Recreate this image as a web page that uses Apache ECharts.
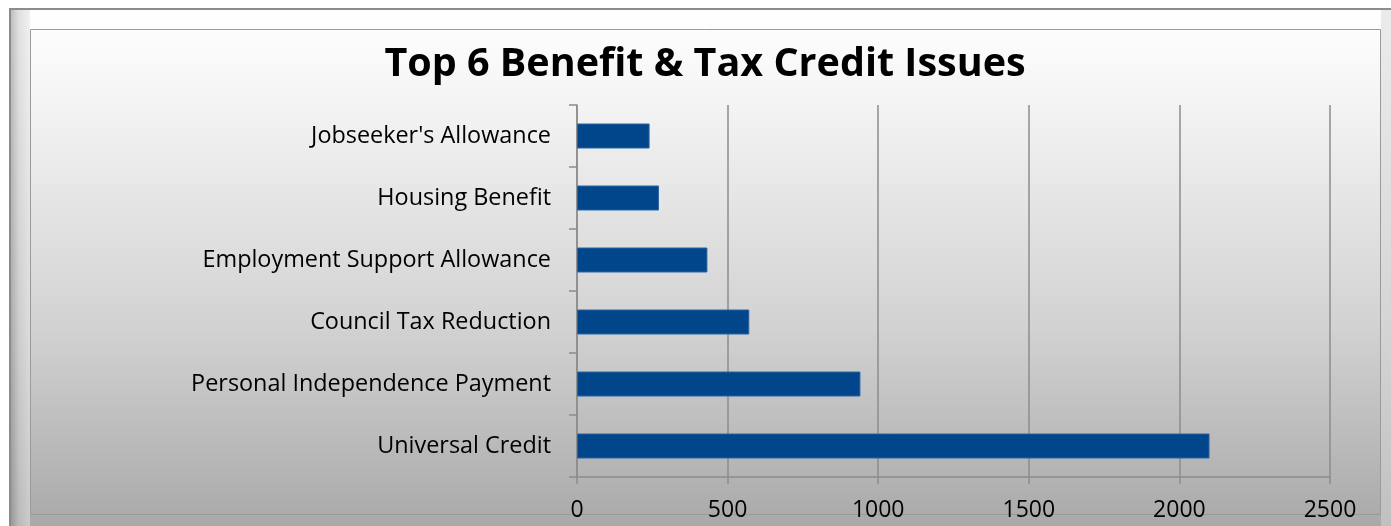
<!DOCTYPE html>
<html>
<head>
<meta charset="utf-8">
<script src="https://cdn.jsdelivr.net/npm/echarts@6/dist/echarts.min.js"></script>
<style>
  html, body { margin: 0; padding: 0; background: #ffffff; }
  #chart { width: 1391px; height: 526px; }
</style>
</head>
<body>
<div id="chart"></div>
<script>
// Benefit & tax credit issues, listed top to bottom
const categories = [
  "Jobseeker's Allowance",
  "Housing Benefit",
  "Employment Support Allowance",
  "Council Tax Reduction",
  "Personal Independence Payment",
  "Universal Credit"
];
const issueCounts = [241, 272, 433, 572, 941, 2100];
const xTicks = { min: 0, max: 2500, interval: 500 };

const FONT = '"Open Sans", "Noto Sans", sans-serif';

const chart = echarts.init(document.getElementById('chart'), null, { renderer: 'canvas' });

const panelGradient = new echarts.graphic.LinearGradient(0, 0, 0, 1, [
  { offset: 0, color: '#ffffff' },
  { offset: 0.15, color: '#f6f6f6' },
  { offset: 0.6, color: '#d2d2d2' },
  { offset: 1, color: '#a6a6a6' }
]);
const bevelGradient = new echarts.graphic.LinearGradient(0, 0, 1, 0, [
  { offset: 0, color: '#8a8a8a' },
  { offset: 0.4, color: '#c8c8c8' },
  { offset: 1, color: '#e6e6e6' }
]);

chart.setOption({
  backgroundColor: '#ffffff',
  animation: false,
  graphic: [
    {
      type: 'rect', z: -10, silent: true,
      shape: { x: 10, y: 9, width: 1390, height: 530 },
      style: { fill: panelGradient, stroke: '#8c8c8c', lineWidth: 2 }
    },
    {
      type: 'rect', z: -9, silent: true,
      shape: { x: 11, y: 10, width: 19, height: 516 },
      style: { fill: bevelGradient, opacity: 0.55 }
    },
    {
      type: 'rect', z: -9, silent: true,
      shape: { x: 1381, y: 10, width: 10, height: 516 },
      style: { fill: '#d8d8d8', opacity: 0.5 }
    },
    {
      type: 'rect', z: -8, silent: true,
      shape: { x: 30.5, y: 29.5, width: 1350, height: 485 },
      style: { fill: 'none', stroke: '#9a9a9a', lineWidth: 1 }
    }
  ],
  title: {
    text: 'Top 6 Benefit & Tax Credit Issues',
    left: 700,
    textAlign: 'center',
    top: 40,
    textStyle: {
      fontFamily: FONT,
      fontWeight: 'bold',
      fontSize: 39.5,
      color: '#000000'
    }
  },
  grid: {
    left: 577,
    right: 61,
    top: 105,
    bottom: 49,
    containLabel: false
  },
  xAxis: {
    type: 'value',
    min: xTicks.min,
    max: xTicks.max,
    interval: xTicks.interval,
    axisLine: { show: true, lineStyle: { color: '#8c8c8c', width: 1.5 } },
    axisTick: { show: true, length: 7, lineStyle: { color: '#8c8c8c', width: 1.5 } },
    splitLine: { show: true, lineStyle: { color: '#8c8c8c', width: 1.5 } },
    axisLabel: {
      fontFamily: FONT,
      fontSize: 23,
      color: '#000000',
      margin: 22,
      formatter: (v) => String(v)
    }
  },
  yAxis: {
    type: 'category',
    inverse: true,
    data: categories,
    axisLine: { show: true, lineStyle: { color: '#8c8c8c', width: 1.5 } },
    axisTick: { show: true, length: 8, alignWithLabel: false, lineStyle: { color: '#8c8c8c', width: 1.5 } },
    axisLabel: {
      fontFamily: FONT,
      fontSize: 23.4,
      color: '#000000',
      margin: 26
    }
  },
  series: [
    {
      type: 'bar',
      data: issueCounts,
      barWidth: 25,
      itemStyle: { color: '#01468b', borderColor: '#2a64a3', borderWidth: 1 }
    }
  ]
});
</script>
</body>
</html>
